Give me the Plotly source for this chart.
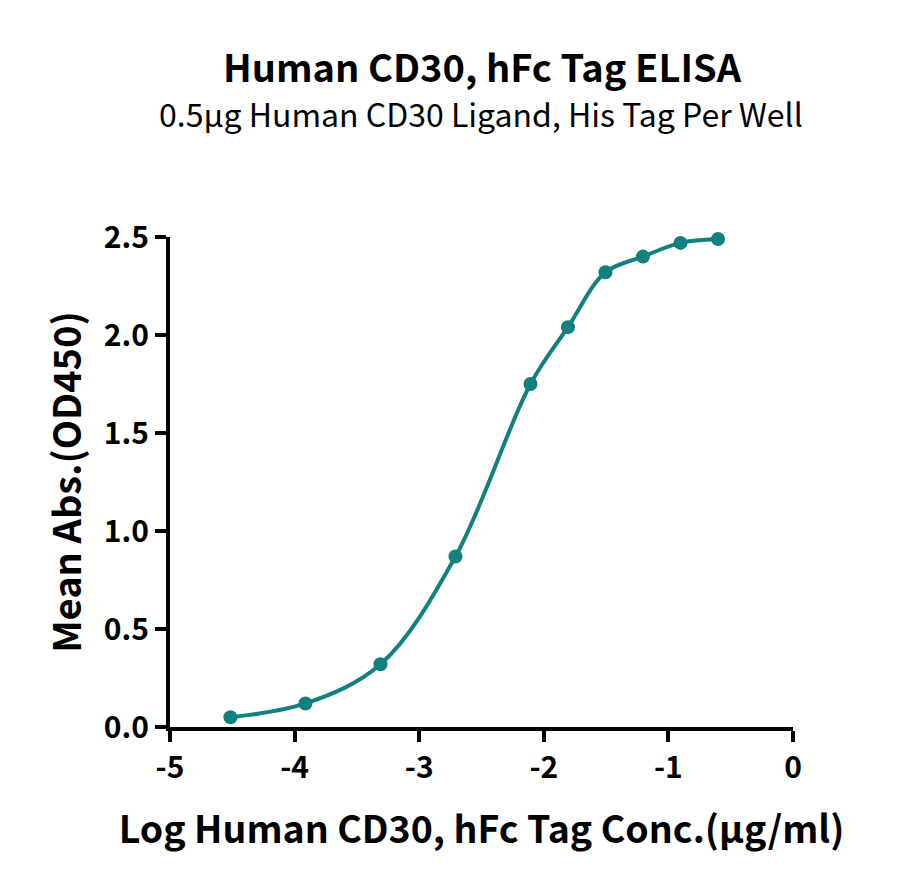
import plotly.graph_objects as go

# log10 concentration (ug/ml) and mean OD450
log_conc = [-4.515, -3.913, -3.311, -2.709, -2.107, -1.806, -1.505, -1.204, -0.903, -0.602]
mean_abs = [0.05, 0.12, 0.32, 0.87, 1.75, 2.04, 2.32, 2.40, 2.47, 2.49]

x_ticks = [-5, -4, -3, -2, -1, 0]
y_ticks = [0.0, 0.5, 1.0, 1.5, 2.0, 2.5]

teal = "#12807f"
font_family = "Noto Sans CJK SC, Noto Sans, sans-serif"

W, H = 900, 888
L, T, PW, PH = 162, 229, 623, 490   # page body adds 8px offset
R, B = W - L - PW, H - T - PH


def px_x(x):
    return (x - 8 - L) / PW


def px_y(y):
    return (H - B - (y - 8)) / PH


fig = go.Figure()
fig.add_trace(go.Scatter(
    x=log_conc, y=mean_abs,
    mode="lines+markers",
    line=dict(color=teal, width=4, shape="spline", smoothing=1.0),
    marker=dict(color=teal, size=14),
    cliponaxis=False,
    showlegend=False,
))

axis_common = dict(
    showline=True, linecolor="black", linewidth=4,
    ticks="outside", ticklen=11, tickwidth=3.5, tickcolor="black",
    showgrid=False, zeroline=False,
    tickfont=dict(family=font_family, size=30, color="black", weight="bold"),
)

fig.update_xaxes(
    range=[-5, 0], tickvals=x_ticks, ticktext=[str(v) for v in x_ticks],
    title=dict(text="Log Human CD30, hFc Tag Conc.(μg/ml)", standoff=32,
               font=dict(family=font_family, size=37.5, color="black", weight="bold")),
    **axis_common,
)
fig.update_yaxes(
    range=[0, 2.5], tickvals=y_ticks, ticktext=[f"{v:.1f}" for v in y_ticks],
    title=dict(text="Mean Abs.(OD450)", standoff=12,
               font=dict(family=font_family, size=38, color="black", weight="bold")),
    **axis_common,
)

fig.update_layout(
    width=W, height=H,
    margin=dict(l=L, r=R, t=T, b=B),
    paper_bgcolor="white", plot_bgcolor="white",
    annotations=[
        dict(text="Human CD30, hFc Tag ELISA", x=px_x(482), y=px_y(65),
             xref="paper", yref="paper", xanchor="center", yanchor="middle", showarrow=False,
             font=dict(family=font_family, size=38, color="black", weight="bold")),
        dict(text="0.5μg Human CD30 Ligand, His Tag Per Well", x=px_x(481), y=px_y(113),
             xref="paper", yref="paper", xanchor="center", yanchor="middle", showarrow=False,
             font=dict(family=font_family, size=32, color="black")),
    ],
)

fig.write_html("out.html")
